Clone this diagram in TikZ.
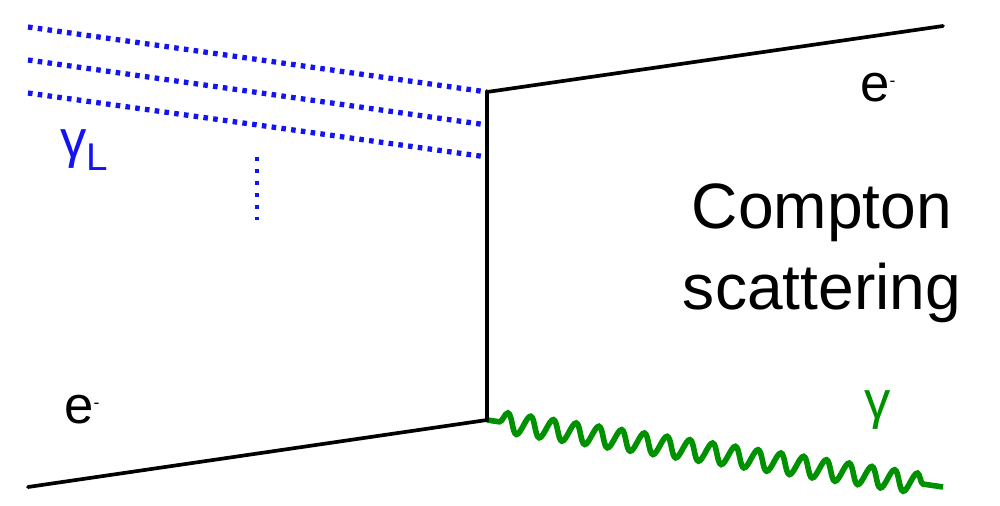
\documentclass[tikz,border=0pt]{standalone}
\usepackage{fontspec}
\setmainfont{Liberation Sans}
\usetikzlibrary{decorations.pathmorphing}
\definecolor{lasblue}{RGB}{20,20,240}
\definecolor{phgreen}{RGB}{0,145,0}
\tikzset{
  electron/.style={line width=2.1pt, black, line cap=round, line join=miter},
  laser/.style={line width=3pt, lasblue, dash pattern=on 2.6pt off 3.0pt},
  photon/.style={line width=3.2pt, phgreen, decorate,
    decoration={snake, segment length=0.46cm, amplitude=0.2cm, pre length=0.25cm, post length=0.35cm}},
  lbl/.style={inner sep=0pt, font=\fontsize{30}{34}\selectfont}
}
\begin{document}
\begin{tikzpicture}[x=0.02cm,y=-0.02cm]
\useasboundingbox (0,0) rectangle (1000,506);
% vertices
\coordinate (ein) at (28,487);
\coordinate (vb) at (487,420);
\coordinate (vt) at (487,92);
\coordinate (eout) at (943,26);
\coordinate (gout) at (943,487);
\coordinate (l1s) at (28,27);
\coordinate (l2s) at (28,60);
\coordinate (l3s) at (28,93);
\coordinate (l2e) at (487,125);
\coordinate (l3e) at (487,157);
\coordinate (vd1) at (257,157);
\coordinate (vd2) at (257,220);
% lasers
\draw[laser] (l1s) -- (vt);
\draw[laser] (l2s) -- (l2e);
\draw[laser] (l3s) -- (l3e);
\draw[lasblue, line width=2.8pt, dash pattern=on 2.3pt off 4.5pt] (vd1) -- (vd2);
% photon
\draw[photon] (vb) -- (gout);
% electrons
\draw[electron] (ein) -- (vb) -- (vt) -- (eout);
% labels
\node[lbl, lasblue] (gl) at (84,150) {γ\raisebox{-0.45ex}{\fontsize{22}{24}\selectfont L}};
\node[lbl] (e1) at (82,410) {e\raisebox{0.55ex}{\fontsize{10}{10}\selectfont -}};
\node[lbl] (e2) at (878,88) {e\raisebox{0.55ex}{\fontsize{10}{10}\selectfont -}};
\node[lbl, phgreen] (g) at (878,410) {γ};
\node[inner sep=0pt, align=center, font=\fontsize{36.5}{46}\selectfont] (cs) at (822,253) {Compton\\scattering};
\end{tikzpicture}
\end{document}
